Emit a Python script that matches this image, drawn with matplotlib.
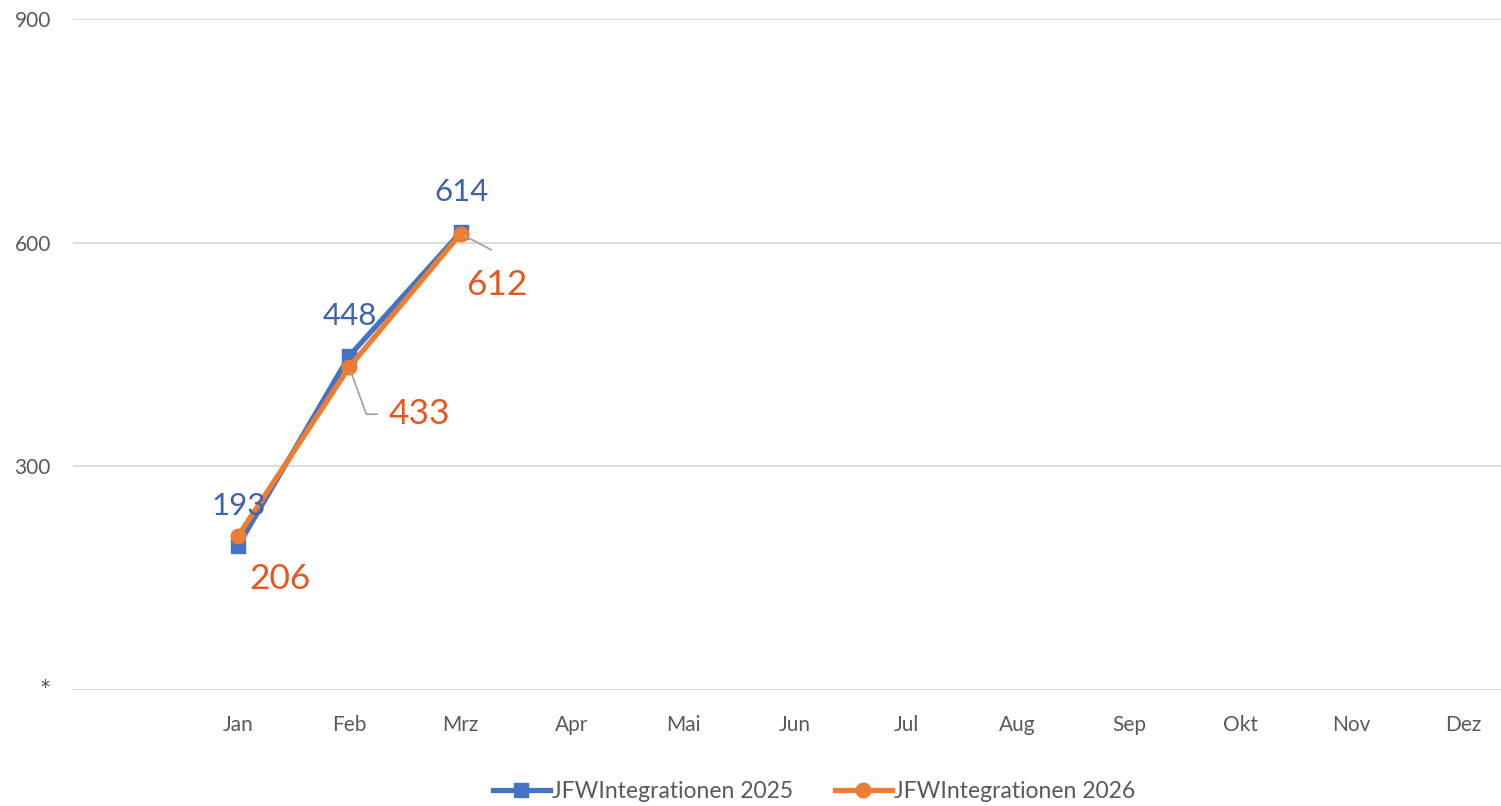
import matplotlib.pyplot as plt

# data
monate = ["Jan", "Feb", "Mrz", "Apr", "Mai", "Jun", "Jul", "Aug", "Sep", "Okt", "Nov", "Dez"]
werte_2025 = [193, 448, 614]
werte_2026 = [206, 433, 612]
y_ticks = [0, 300, 600, 900]
y_labels = ["*", "300", "600", "900"]

plt.rcParams["font.family"] = ["Lato", "DejaVu Sans"]

blau = "#4472C4"
orange = "#ED7D31"
blau_label = "#3D62AD"
orange_label = "#E8561F"
grau = "#595959"

fig = plt.figure(figsize=(15.01, 8.06), dpi=100)
ax = fig.add_axes([73 / 1501, 116 / 806, 1428 / 1501, 671 / 806])

x = list(range(1, len(monate) + 1))

ax.plot(x[:len(werte_2025)], werte_2025, color=blau, lw=3.8, marker="s", ms=10,
        label="JFWIntegrationen 2025", zorder=3)
ax.plot(x[:len(werte_2026)], werte_2026, color=orange, lw=3.8, marker="o", ms=10.5,
        label="JFWIntegrationen 2026", zorder=4)

# labels 2025 above
for xi, v in zip(x, werte_2025):
    ax.annotate(str(v), (xi, v), xytext=(1, 40), textcoords="offset pixels",
                ha="center", va="center", fontsize=22.5, color=blau_label, zorder=5)

# labels 2026
offsets_2026 = [(42, -43), (70, -47), (36, -51)]
for i, (xi, v) in enumerate(zip(x, werte_2026)):
    dx, dy = offsets_2026[i]
    if i == 0:
        ax.annotate(str(v), (xi, v), xytext=(dx, dy), textcoords="offset pixels",
                    ha="center", va="center", fontsize=25.5, color=orange_label, zorder=5)
    elif i == 1:
        ax.annotate(str(v), (xi, v), xytext=(dx, dy), textcoords="offset pixels",
                    ha="center", va="center", fontsize=25.5, color=orange_label, zorder=5,
                    arrowprops=dict(arrowstyle="-", color="#A5A5A5", lw=1.3,
                                    relpos=(0, 0.5), shrinkA=6, shrinkB=4,
                                    connectionstyle="angle,angleA=0,angleB=-70,rad=0"))
    else:
        ax.annotate(str(v), (xi, v), xytext=(dx, dy), textcoords="offset pixels",
                    ha="center", va="center", fontsize=25.5, color=orange_label, zorder=5,
                    arrowprops=dict(arrowstyle="-", color="#A5A5A5", lw=1.3,
                                    relpos=(1, 1), shrinkA=25, shrinkB=3))

ax.set_xlim(-0.48, 12.34)
ax.set_ylim(0, 900)
ax.set_xticks(x)
ax.set_xticklabels(monate)
ax.set_yticks(y_ticks)
ax.set_yticklabels(y_labels)
ax.tick_params(axis="both", length=0, labelsize=15, colors=grau)
ax.tick_params(axis="x", pad=18)
ax.tick_params(axis="y", pad=16)
ax.get_yticklabels()[0].set_fontsize(19)
ax.grid(axis="y", color="#D9D9D9", lw=1.3)
ax.set_axisbelow(True)
for s in ax.spines.values():
    s.set_visible(False)

leg = fig.legend(loc="center", bbox_to_anchor=(814 / 1501, 1 - 792 / 806), ncol=2,
                 frameon=False, fontsize=16.5, handlelength=2.5, columnspacing=1.8,
                 handletextpad=0.1)
for t in leg.get_texts():
    t.set_color(grau)

plt.savefig("out.png", dpi=100)
